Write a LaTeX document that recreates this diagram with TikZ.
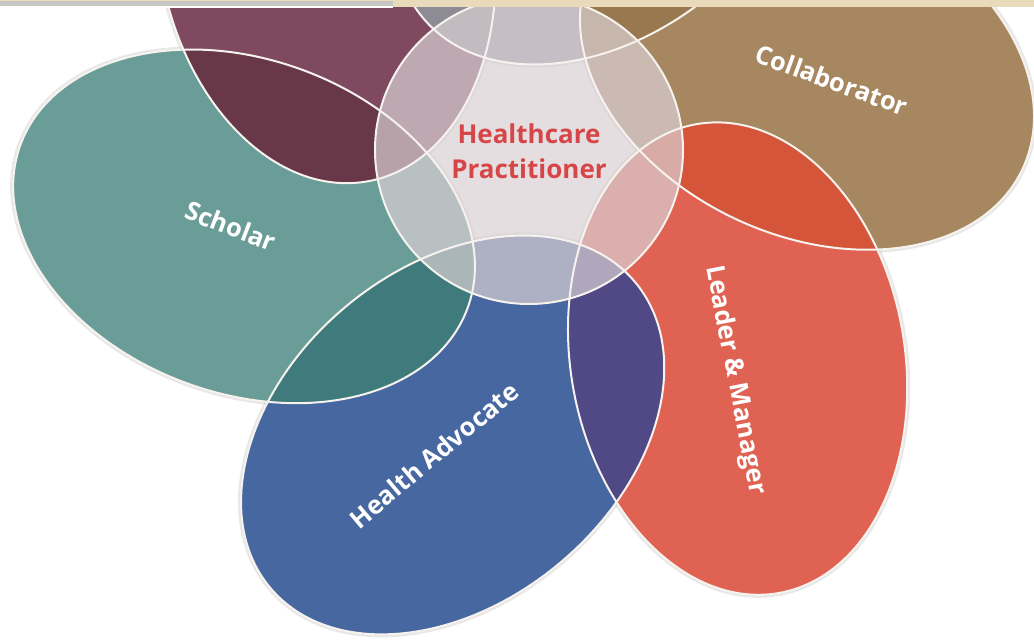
\documentclass[tikz,border=0pt]{standalone}
\usepackage{fontspec}
\setmainfont{Open Sans}
\definecolor{cTeal}{RGB}{106,157,151}
\definecolor{cMaroon}{RGB}{127,74,96}
\definecolor{cTan}{RGB}{167,135,95}
\definecolor{cRed}{RGB}{224,98,83}
\definecolor{cBlue}{RGB}{71,103,160}
\definecolor{cTop}{RGB}{154,150,160}
\definecolor{cTM}{RGB}{105,56,72}
\definecolor{cTB}{RGB}{63,123,124}
\definecolor{cBR}{RGB}{81,72,134}
\definecolor{cRT}{RGB}{213,85,58}
\definecolor{cTT}{RGB}{152,121,79}
\definecolor{cTopM}{RGB}{141,139,147}
\definecolor{cLine}{RGB}{246,242,237}
\definecolor{cHub}{RGB}{218,208,212}
\definecolor{cHubRim}{RGB}{176,166,174}
\definecolor{cHubText}{RGB}{214,70,72}
\definecolor{cBeige}{RGB}{232,218,187}
\definecolor{cBar}{RGB}{200,198,195}
\pgfdeclareradialshading{hubshade}{\pgfpoint{0bp}{0bp}}{color(0bp)=(cHub); color(38bp)=(cHub); color(50bp)=(cHubRim)}
\tikzset{
  petal/.style={x radius=238, y radius=167},
  pA/.style={shift={(195:295)}, rotate=160},
  pB/.style={shift={(255:295)}, rotate=220},
  pC/.style={shift={(315:295)}, rotate=280},
  pD/.style={shift={(278,82)}, rotate=335},
  pE/.style={shift={(75:295)}, rotate=40},
  pF/.style={shift={(-203,203)}, rotate=100},
  halo/.style={draw=black, draw opacity=0.09, line width=6},
  outline/.style={draw=cLine, line width=2},
  lbl/.style={text=white, font=\bfseries\fontsize{25.5}{30}\selectfont, inner sep=0pt},
  hubtext/.style={text=cHubText, font=\bfseries\fontsize{26}{35}\selectfont, align=center, inner sep=0pt}
}
\begin{document}
\begin{tikzpicture}[x=1pt,y=1pt]
\useasboundingbox (0,0) rectangle (1034,640);
\fill[white] (0,0) rectangle (1034,640);
\begin{scope}
\clip (0,0) rectangle (1034,640);
\begin{scope}[shift={(529,490)}]
  % soft halo
  \path[halo,pA] (0,0) ellipse[petal];
  \path[halo,pB] (0,0) ellipse[petal];
  \path[halo,pC] (0,0) ellipse[petal];
  \path[halo,pD] (0,0) ellipse[petal];
  \path[halo,pE] (0,0) ellipse[petal];
  \path[halo,pF] (0,0) ellipse[petal];
  % petals
  \fill[cTeal,pA] (0,0) ellipse[petal];
  \fill[cBlue,pB] (0,0) ellipse[petal];
  \fill[cRed,pC] (0,0) ellipse[petal];
  \fill[cTan,pD] (0,0) ellipse[petal];
  \fill[cTop,pE] (0,0) ellipse[petal];
  \fill[cMaroon,pF] (0,0) ellipse[petal];
  % overlaps
  \begin{scope}\clip[pA] (0,0) ellipse[petal]; \fill[cTB,pB] (0,0) ellipse[petal];\end{scope}
  \begin{scope}\clip[pA] (0,0) ellipse[petal]; \fill[cTM,pF] (0,0) ellipse[petal];\end{scope}
  \begin{scope}\clip[pB] (0,0) ellipse[petal]; \fill[cBR,pC] (0,0) ellipse[petal];\end{scope}
  \begin{scope}\clip[pC] (0,0) ellipse[petal]; \fill[cRT,pD] (0,0) ellipse[petal];\end{scope}
  \begin{scope}\clip[pD] (0,0) ellipse[petal]; \fill[cTT,pE] (0,0) ellipse[petal];\end{scope}
  \begin{scope}\clip[pE] (0,0) ellipse[petal]; \fill[cTopM,pF] (0,0) ellipse[petal];\end{scope}
  % hub
  \shade[shading=hubshade, opacity=0.70] (0,0) circle[radius=154];
  % outlines
  \draw[outline,pA] (0,0) ellipse[petal];
  \draw[outline,pB] (0,0) ellipse[petal];
  \draw[outline,pC] (0,0) ellipse[petal];
  \draw[outline,pD] (0,0) ellipse[petal];
  \draw[outline,pE] (0,0) ellipse[petal];
  \draw[outline,pF] (0,0) ellipse[petal];
  \draw[outline] (0,0) circle[radius=154];
\end{scope}
% labels
\node[lbl, rotate=-21] (scholar) at (231,414) {Scholar};
\node[lbl, rotate=-20] (collab) at (832,560) {Collaborator};
\node[lbl, rotate=-79] (leader) at (735,260) {Leader \& Manager};
\node[lbl, rotate=40] (advocate) at (434,185) {Health Advocate};
\node[hubtext] (hub) at (529,489) {Healthcare\\Practitioner};
\end{scope}
% top strip
\fill[cBeige] (0,639) rectangle (1034,640);
\fill[cBeige] (393,632.5) rectangle (1034,640);
\fill[cBar] (0,634.3) rectangle (393,639);
\fill[white] (0,632) rectangle (393,634.3);
\end{tikzpicture}
\end{document}
